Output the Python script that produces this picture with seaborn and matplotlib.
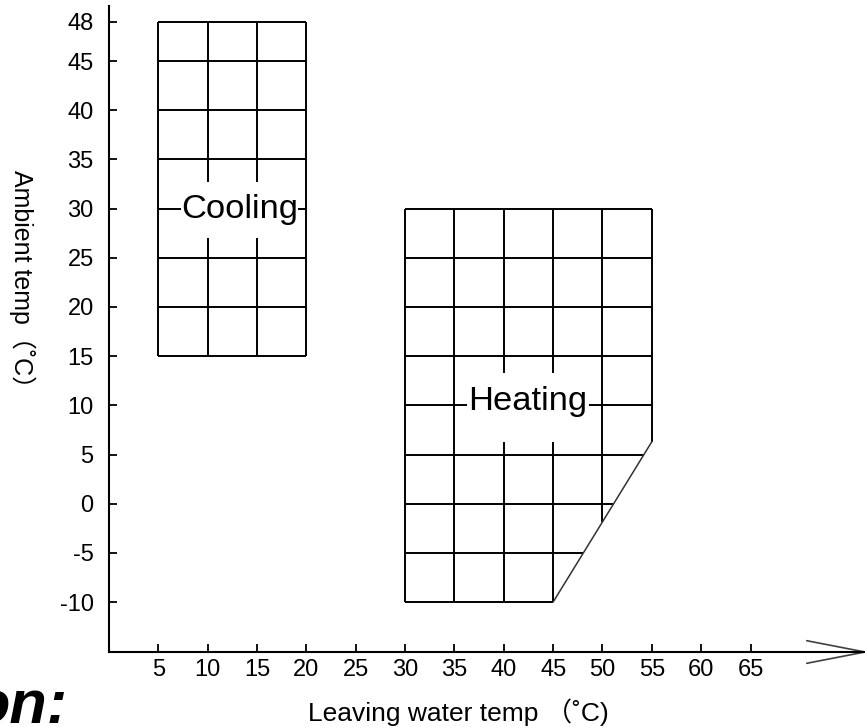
import numpy as np
import matplotlib
matplotlib.use('Agg')
import matplotlib.pyplot as plt
import seaborn as sns
from matplotlib.patches import Rectangle

# operating envelope
cooling_x = [5, 10, 15, 20]
cooling_y = [15, 20, 25, 30, 35, 40, 45, 48]
heating_x = [30, 35, 40, 45, 50, 55]
heating_y = [-10, -5, 0, 5, 10, 15, 20, 25, 30]
heating_cut_x = [45, 55]      # bevelled bottom-right corner of heating area
heating_cut_y = [-10, 6.3]
x_ticks = [5, 10, 15, 20, 25, 30, 35, 40, 45, 50, 55, 60, 65]
y_ticks = [-10, -5, 0, 5, 10, 15, 20, 25, 30, 35, 40, 45, 48]
area_names = ['Cooling', 'Heating']
area_label_x = [13.2, 42.45]
area_label_y = [29.9, 10.4]

sns.set_style('ticks')
plt.rcParams['font.family'] = ['Liberation Sans', 'Noto Sans CJK SC', 'DejaVu Sans']
plt.rcParams['axes.unicode_minus'] = False
plt.rcParams['text.color'] = 'black'
plt.rcParams['axes.labelcolor'] = 'black'


# the original drawing stretches the 45..48 step on the y axis
def y_fwd(y):
    y = np.asarray(y, dtype=float)
    return np.where(y <= 45, y, 45 + (y - 45) * 4 / 3)


def y_inv(y):
    y = np.asarray(y, dtype=float)
    return np.where(y <= 45, y, 45 + (y - 45) * 3 / 4)


fig = plt.figure(figsize=(8.65, 7.27), dpi=100)
ax = fig.add_axes([109 / 865, 75 / 727, 756 / 865, 646 / 727])
ax.set_yscale('function', functions=(y_fwd, y_inv))
ax.set_xlim(0, 76.6)
ax.set_ylim(-15.08, 49.2)

lw = 1.4
# cooling grid
ax.vlines(cooling_x, min(cooling_y), max(cooling_y), color='black', lw=lw)
ax.hlines(cooling_y, min(cooling_x), max(cooling_x), color='black', lw=lw)

# heating grid, clipped by the bevel
v_bottom = np.interp(heating_x, heating_cut_x, heating_cut_y)
ax.vlines(heating_x, v_bottom, max(heating_y), color='black', lw=lw)
h_right = np.interp(heating_y, heating_cut_y, heating_cut_x)
ax.hlines(heating_y, min(heating_x), h_right, color='black', lw=lw)
sns.lineplot(x=heating_cut_x, y=heating_cut_y, ax=ax, color='0.2', lw=1.1)

# labels with a white gap in the grid
box_size = {'Cooling': (11.9, 5.7), 'Heating': (12.3, 7.0)}
box_shift = {'Cooling': 0.0, 'Heating': -0.6}
for name, lx, ly in zip(area_names, area_label_x, area_label_y):
    w, h = box_size[name]
    cy = ly + box_shift[name]
    ax.add_patch(Rectangle((lx - w / 2, cy - h / 2), w, h, fc='white', ec='none', zorder=3))
    ax.text(lx, ly, name, ha='center', va='center', fontsize=24.8, color='black', zorder=4)

# axes
for side in ['top', 'right']:
    ax.spines[side].set_visible(False)
for side in ['left', 'bottom']:
    ax.spines[side].set_linewidth(1.5)
    ax.spines[side].set_color('black')

ax.set_xticks(x_ticks, labels=[str(v) for v in x_ticks])
ax.set_yticks(y_ticks, labels=[str(v) for v in y_ticks])
ax.minorticks_off()
ax.tick_params(axis='both', direction='in', length=6, width=1.3, labelsize=17, colors='black')
ax.tick_params(axis='x', pad=5)
ax.tick_params(axis='y', pad=11)

# arrow head on the x axis
x_end = ax.get_xlim()[1]
y_base = ax.get_ylim()[0]
for dy in [1.15, -1.15]:
    ax.plot([x_end - 5.9, x_end], [y_base + dy, y_base], color='0.25', lw=1.2, clip_on=False)

ax.set_xlabel('Leaving water temp （˚C)', fontsize=19)
ax.xaxis.set_label_coords((458 - 109) / 756, (652 - 712) / 646)
ax.xaxis.label.set_va('center')
ax.set_ylabel('Ambient temp（˚C）', fontsize=18, rotation=270)
ax.yaxis.set_label_coords((22 - 109) / 756, (652 - 285) / 646)
ax.yaxis.label.set_va('center')

fig.text(67 / 865, 4 / 727, 'on:', ha='right', va='baseline', fontsize=44,
         weight='bold', style='italic', color='black')

fig.savefig('out.png', dpi=100)
